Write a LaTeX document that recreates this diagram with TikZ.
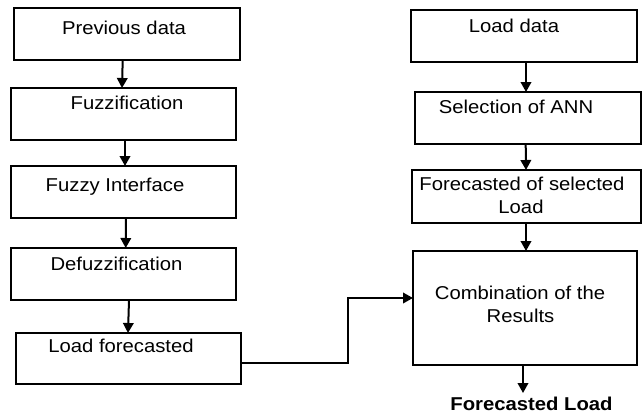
\documentclass[tikz,border=0pt]{standalone}
\usepackage{fontspec}
\setmainfont{Liberation Sans}[FakeStretch=1.09]
\usetikzlibrary{arrows.meta}
\begin{document}
\begin{tikzpicture}[x=1pt,y=-1pt,
  box/.style={draw, line width=2pt, outer sep=0pt, inner sep=0pt, anchor=north west},
  txt/.style={anchor=base, inner sep=0pt, font=\fontsize{18.6}{23.3}\selectfont},
  arr/.style={line width=2pt, -{Triangle[length=10pt,width=10.5pt]}}]
\useasboundingbox (0,0) rectangle (643,415);
% left column
\node[box, minimum width=226pt, minimum height=52pt] (a) at (14,8) {};
\node[txt] (at) at (124,34.3) {Previous data};
\node[box, minimum width=225pt, minimum height=52pt] (b) at (11,88) {};
\node[txt] (bt) at (127,109.5) {Fuzzification};
\node[box, minimum width=225pt, minimum height=52pt] (c) at (11,166) {};
\node[txt] (ct) at (115,191.5) {Fuzzy Interface};
\node[box, minimum width=225pt, minimum height=52pt] (d) at (11,248) {};
\node[txt] (dt) at (116.5,270) {Defuzzification};
\node[box, minimum width=225pt, minimum height=51pt] (e) at (16,333) {};
\node[txt] (et) at (121,352.6) {Load forecasted};
% right column
\node[box, minimum width=226pt, minimum height=52pt] (f) at (411,10) {};
\node[txt] (ft) at (514,32.3) {Load data};
\node[box, minimum width=226pt, minimum height=52pt] (g) at (415,92) {};
\node[txt] (gt) at (516,113.3) {Selection of ANN};
\node[box, minimum width=229pt, minimum height=53pt] (h) at (412,170) {};
\node[txt] (ht) at (522,190) {Forecasted of selected};
\node[txt] (ht2) at (521,213.3) {Load};
\node[box, minimum width=224pt, minimum height=114pt] (i) at (413,251) {};
\node[txt] (it) at (520,299.3) {Combination of the};
\node[txt] (it2) at (520.5,322.7) {Results};
\node[txt, font=\fontsize{18.6}{23.3}\selectfont\bfseries] (out) at (531.5,410.7) {Forecasted Load};
% connectors
\draw[arr] ([xshift=-4.3pt]a.south) -- ([xshift=-1.5pt]b.north);
\draw[arr] ([xshift=1.5pt]b.south) -- ([xshift=1.5pt]c.north);
\draw[arr] ([xshift=2.5pt]c.south) -- ([xshift=2.2pt]d.north);
\draw[arr] ([xshift=5.5pt]d.south) -- ([xshift=-0.5pt]e.north);
\draw[arr] ([xshift=2pt]f.south) -- ([xshift=-2pt]g.north);
\draw[arr] ([xshift=-2.3pt]g.south) -- ([xshift=-0.5pt]h.north);
\draw[arr] ([xshift=-0.5pt]h.south) -- ([xshift=1pt]i.north);
\coordinate (is) at ([xshift=-2pt]i.south);
\coordinate (oe) at ([yshift=4pt]out.north);
\draw[arr] (is) -- (is |- oe);
\coordinate (elbow) at (348,363);
\draw[arr] (e.east |- elbow) -- (elbow) |- ([yshift=10pt]i.west);
\end{tikzpicture}
\end{document}
